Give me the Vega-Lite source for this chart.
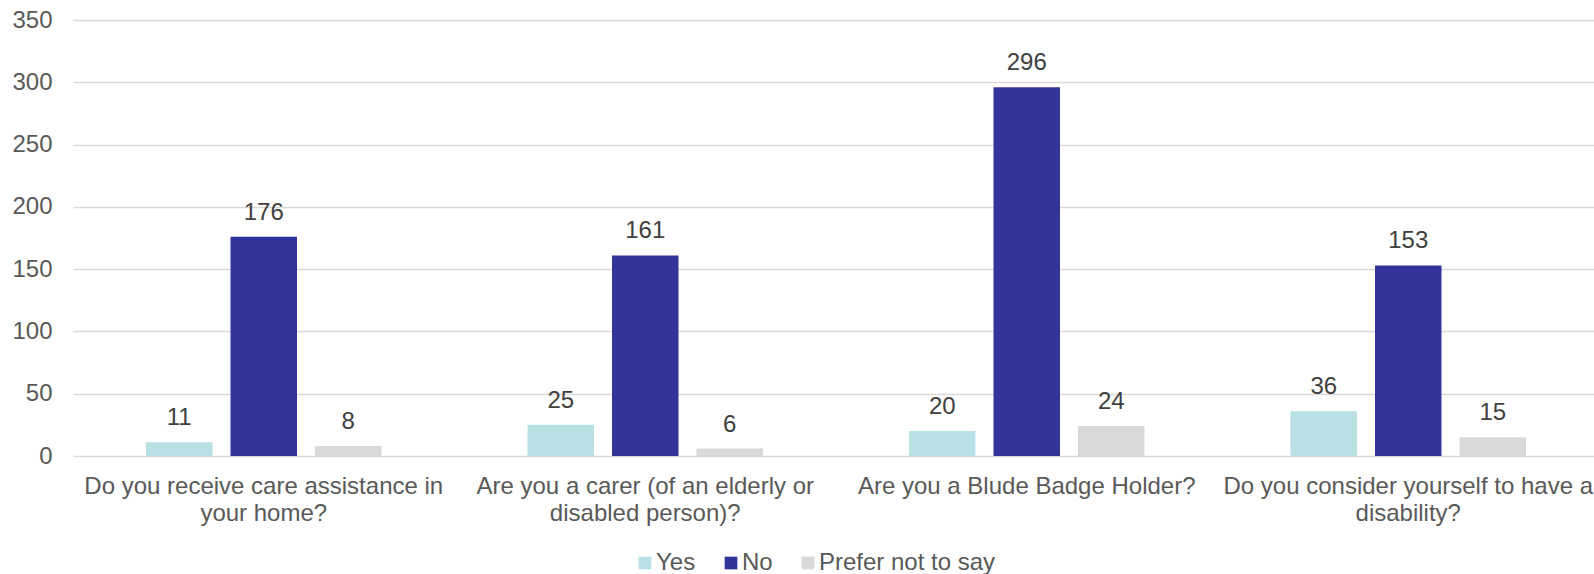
{
  "$schema": "https://vega.github.io/schema/vega-lite/v6.json",
  "autosize": {"type": "none"},
  "width": 1521,
  "height": 436,
  "padding": {"left": 73, "top": 20, "right": 0, "bottom": 118},
  "background": "white",
  "config": {
    "view": {"stroke": null},
    "font": "Liberation Sans",
    "text": {"font": "Liberation Sans"}
  },
  "data": {
    "values": [
      {"question": "Do you receive care assistance in your home?", "answer": "Yes", "count": 11},
      {"question": "Do you receive care assistance in your home?", "answer": "No", "count": 176},
      {"question": "Do you receive care assistance in your home?", "answer": "Prefer not to say", "count": 8},
      {"question": "Are you a carer (of an elderly or disabled person)?", "answer": "Yes", "count": 25},
      {"question": "Are you a carer (of an elderly or disabled person)?", "answer": "No", "count": 161},
      {"question": "Are you a carer (of an elderly or disabled person)?", "answer": "Prefer not to say", "count": 6},
      {"question": "Are you a Blude Badge Holder?", "answer": "Yes", "count": 20},
      {"question": "Are you a Blude Badge Holder?", "answer": "No", "count": 296},
      {"question": "Are you a Blude Badge Holder?", "answer": "Prefer not to say", "count": 24},
      {"question": "Do you consider yourself to have a disability?", "answer": "Yes", "count": 36},
      {"question": "Do you consider yourself to have a disability?", "answer": "No", "count": 153},
      {"question": "Do you consider yourself to have a disability?", "answer": "Prefer not to say", "count": 15}
    ]
  },
  "encoding": {
    "x": {
      "field": "question",
      "type": "nominal",
      "sort": null,
      "title": null,
      "scale": {"range": [0, 1526], "paddingInner": 0, "paddingOuter": 0},
      "axis": {
        "domain": false,
        "ticks": false,
        "labelAngle": 0,
        "labelFontSize": 24,
        "labelColor": "#595959",
        "labelPadding": 18,
        "labelLineHeight": 27,
        "labelLimit": 1000,
        "labelBaseline": "top",
        "labelExpr": "datum.label == 'Do you receive care assistance in your home?' ? ['Do you receive care assistance in', 'your home?'] : datum.label == 'Are you a carer (of an elderly or disabled person)?' ? ['Are you a carer (of an elderly or', 'disabled person)?'] : datum.label == 'Do you consider yourself to have a disability?' ? ['Do you consider yourself to have a', 'disability?'] : datum.label"
      }
    },
    "xOffset": {
      "field": "answer",
      "type": "nominal",
      "sort": ["Yes", "No", "Prefer not to say"],
      "scale": {"paddingInner": 0.213, "paddingOuter": 0.864}
    },
    "y": {
      "field": "count",
      "type": "quantitative",
      "title": null,
      "scale": {"domain": [0, 350], "nice": false},
      "axis": {
        "values": [0, 50, 100, 150, 200, 250, 300, 350],
        "domain": false,
        "ticks": false,
        "labelFontSize": 24,
        "labelColor": "#595959",
        "labelPadding": 21,
        "gridColor": "#D9D9D9",
        "gridWidth": 1.3
      }
    }
  },
  "layer": [
    {
      "mark": {"type": "bar"},
      "encoding": {
        "color": {
          "field": "answer",
          "type": "nominal",
          "sort": ["Yes", "No", "Prefer not to say"],
          "scale": {"domain": ["Yes", "No", "Prefer not to say"], "range": ["#B9E0E3", "#333399", "#D9D9D9"]},
          "legend": {
            "title": null,
            "orient": "none",
            "direction": "horizontal",
            "legendX": 560,
            "legendY": 531,
            "symbolType": "square",
            "symbolSize": 161,
            "symbolStrokeWidth": 0,
            "labelFontSize": 24,
            "labelColor": "#595959",
            "labelOffset": -1,
            "labelLimit": 0,
            "columnPadding": 23,
            "padding": 0
          }
        }
      }
    },
    {
      "mark": {"type": "text", "baseline": "alphabetic", "dy": -17, "fontSize": 24, "color": "#404040"},
      "encoding": {
        "text": {"field": "count", "type": "quantitative"}
      }
    }
  ]
}
